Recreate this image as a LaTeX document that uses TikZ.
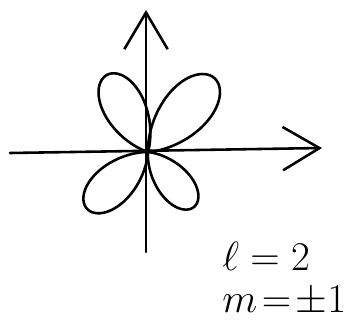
\documentclass[tikz,border=0pt]{standalone}
\usetikzlibrary{arrows.meta,positioning}

\begin{document}
\begin{tikzpicture}[line cap=round,line join=round]
  \tikzstyle{ink}=[line width=2.2pt,black]
  \tikzstyle{tip}=[-{Straight Barb[length=11mm,width=13mm,line width=2.2pt]}]
  \tikzstyle{label}=[font=\Huge,scale=1.4,anchor=base west,inner sep=0pt]
  \useasboundingbox (-4.44,-5.13) rectangle (6.12,4.56);
  % axes
  \coordinate (o) at (0,0);
  \coordinate (xl) at (-4.14,-0.03);
  \coordinate (xr) at (5.22,0.12);
  \coordinate (yb) at (-0.06,-3.0);
  \coordinate (yt) at (-0.06,4.26);
  \draw[ink,tip] (xl) -- (xr);
  \draw[ink,tip] (yb) -- (yt);
  % lobes: direction / length
  \foreach \a/\L in {118/2.62,48/2.98,223/2.5,-50/2.15}
    \draw[ink] plot[domain=-45:45,samples=61,smooth] ({\a+\x}:{\L*max(cos(2*\x),0)^1.4});
  \node[label] (ell) at (2.22,-3.55) {$\ell=2$};
  \node[label] (m) at (2.22,-4.8) {$m\!=\!\pm1$};
\end{tikzpicture}
\end{document}
